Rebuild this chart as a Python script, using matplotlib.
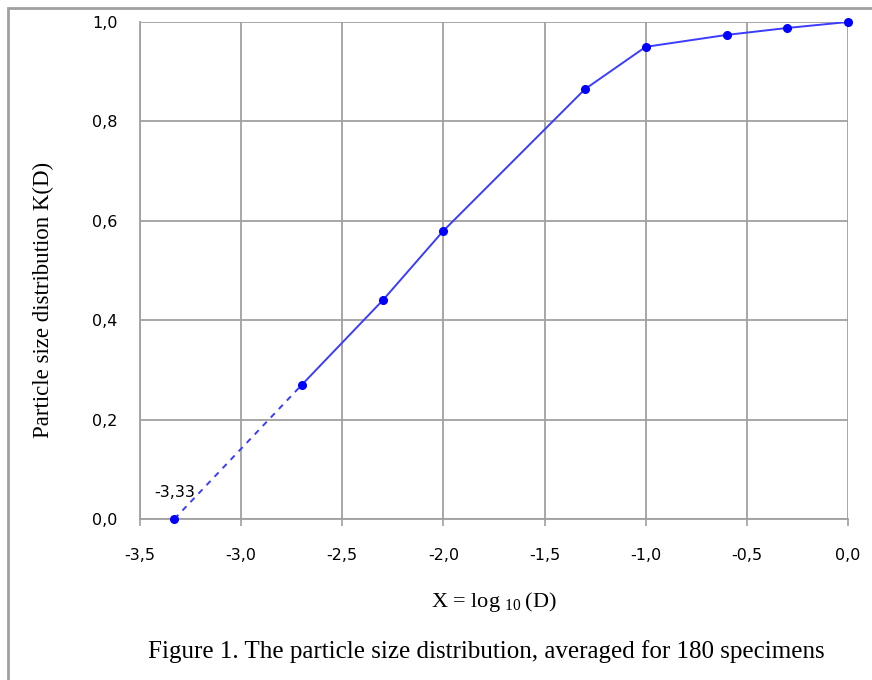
import matplotlib
matplotlib.use("Agg")
from matplotlib import pyplot as plt
from matplotlib.patches import Rectangle
from matplotlib.ticker import FuncFormatter

# data
log_d = [-3.33, -2.7, -2.3, -2.0, -1.3, -1.0, -0.6, -0.3, 0.0]
k_d = [0.0, 0.27, 0.44, 0.58, 0.865, 0.95, 0.974, 0.988, 1.0]
x_ticks = [-3.5, -3.0, -2.5, -2.0, -1.5, -1.0, -0.5, 0.0]
y_ticks = [0.0, 0.2, 0.4, 0.6, 0.8, 1.0]

plt.rcParams["mathtext.default"] = "regular"
grid_col = "#a0a0a0"
blue = "#0000ff"
serif = "Liberation Serif"

fig = plt.figure(figsize=(8.72, 6.8), dpi=100)
ax = fig.add_axes([140 / 872, 1 - 519 / 680, 708 / 872, 497 / 680])

# outer frame of the figure box
fig.patches.append(Rectangle((8 / 872, -0.1), 1.2, (680 - 8) / 680 + 0.1,
                             transform=fig.transFigure, fill=False,
                             edgecolor=grid_col, linewidth=2))

# dashed extrapolated part, then solid measured part
ax.plot(log_d[:2], k_d[:2], color="#3c3cff", linewidth=1.4, linestyle=(0, (3, 3)))
ax.plot(log_d[1:], k_d[1:], color="#3c3cff", linewidth=1.4)
ax.plot(log_d, k_d, linestyle="none", marker="o", markersize=5.5, color=blue,
        clip_on=False, zorder=5)

ax.annotate("-3,33", (log_d[0], k_d[0]), xytext=(0, 14), textcoords="offset points",
            ha="center", va="bottom", fontsize=11.5, family="DejaVu Sans")

ax.set_xlim(-3.5, 0.0)
ax.set_ylim(0.0, 1.0)
ax.set_xticks(x_ticks)
ax.set_yticks(y_ticks)
comma = FuncFormatter(lambda v, p: f"{v:.1f}".replace(".", ","))
ax.xaxis.set_major_formatter(comma)
ax.yaxis.set_major_formatter(comma)
ax.tick_params(axis="x", direction="out", length=5, width=1.2, color=grid_col,
               labelsize=11.5, pad=16)
ax.tick_params(axis="y", length=0, labelsize=11.5, pad=16)

ax.grid(True, color=grid_col, linewidth=1.3)
ax.set_axisbelow(True)
for side in ax.spines:
    ax.spines[side].set_color(grid_col)
    ax.spines[side].set_linewidth(1.3)
for side in ["top", "right"]:
    ax.spines[side].set_visible(False)

ax.set_xlabel(r"X = log $_{10}\,$(D)", family=serif, fontsize=16, labelpad=19)
fig.text(43 / 872, 1 - 300 / 680, "Particle size distribution K(D)", family=serif,
         fontsize=16.5, rotation=90, ha="center", va="center")
fig.text(486 / 872, 1 - 652 / 680,
         "Figure 1. The particle size distribution, averaged for 180 specimens",
         family=serif, fontsize=18, ha="center", va="center")

fig.savefig("out.png", dpi=100)
